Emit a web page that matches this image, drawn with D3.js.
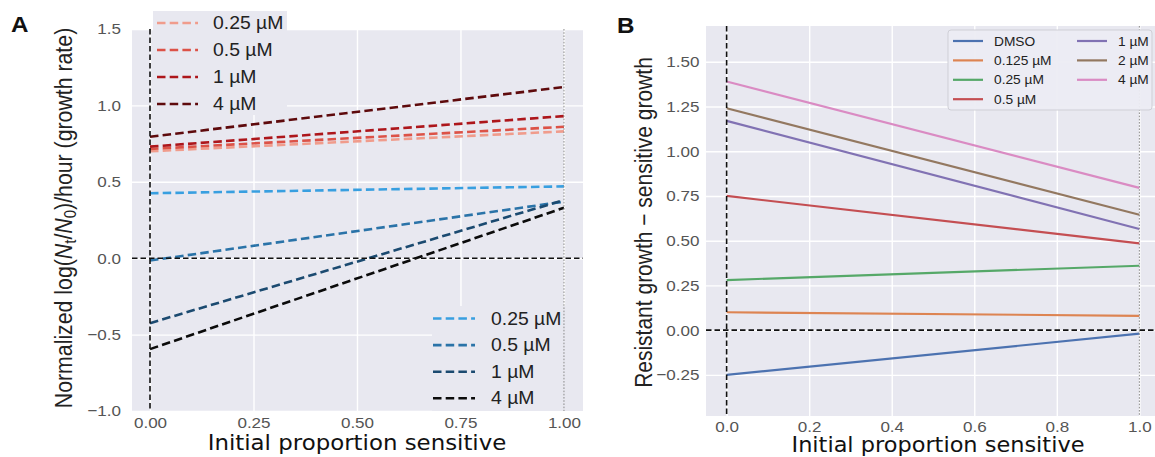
<!DOCTYPE html>
<html>
<head>
<meta charset="utf-8">
<script src="https://cdn.jsdelivr.net/npm/d3@7"></script>
<style>
  body { margin: 0; background: #ffffff; }
  svg { display: block; }
</style>
</head>
<body>
<svg id="fig" width="1155" height="457"></svg>
<script>
// ---- Panel A: growth rate vs. initial sensitive fraction (dashed lines) ----
const propEnds = [0, 1];
const concLabelsA = ["0.25 µM", "0.5 µM", "1 µM", "4 µM"];
const resistantStartA = [0.70, 0.715, 0.73, 0.795];
const resistantEndA   = [0.83, 0.86, 0.93, 1.12];
const sensitiveStartA = [0.425, -0.015, -0.425, -0.595];
const sensitiveEndA   = [0.47, 0.37, 0.38, 0.33];
const xTicksA = [0, 0.25, 0.5, 0.75, 1.0];
const yTicksA = [-1.0, -0.5, 0.0, 0.5, 1.0, 1.5];

// ---- Panel B: resistant minus sensitive growth (solid lines) ----
const concLabelsB = ["DMSO", "0.125 µM", "0.25 µM", "0.5 µM", "1 µM", "2 µM", "4 µM"];
const diffStartB = [-0.25, 0.10, 0.28, 0.75, 1.17, 1.24, 1.39];
const diffEndB   = [-0.02, 0.08, 0.36, 0.485, 0.565, 0.645, 0.795];
const xTicksB = [0, 0.2, 0.4, 0.6, 0.8, 1.0];
const yTicksB = [-0.25, 0, 0.25, 0.5, 0.75, 1.0, 1.25, 1.5];

const redsA  = ["#f09c8c", "#dc5247", "#ad161b", "#5e0a0c"];
const bluesA = ["#389fe0", "#2a73a8", "#1b4a70", "#0b0b0b"];
const deep   = ["#4c72b0", "#dd8452", "#55a868", "#c44e52", "#8172b3", "#937860", "#da8bc3"];

const BG = "#e8e8f0";
const SX = 1.1; // horizontal glyph stretch of the figure's text
const svg = d3.select("#fig");
const tickFont = "'Liberation Sans', Arial, sans-serif";

function panel(opts) {
  const { x, y, xTicks, yTicks, xFmt, yFmt, xPad, yPad } = opts;
  const [x0, x1] = x.range();
  const [y0, y1] = y.range(); // y0 bottom, y1 top
  const g = svg.append("g");
  g.append("rect").attr("x", x0).attr("y", y1).attr("width", x1 - x0).attr("height", y0 - y1).attr("fill", BG);

  const styleAxis = (ax) => {
    ax.select(".domain").remove();
    ax.selectAll(".tick line").attr("stroke", "#ffffff").attr("stroke-width", 1.4);
    ax.selectAll(".tick text")
      .attr("fill", "#555555")
      .style("font-family", tickFont)
      .style("font-size", "15.5px");
  };
  const xa = g.append("g").attr("transform", `translate(0,${y0})`)
    .call(d3.axisBottom(x).tickValues(xTicks).tickFormat(xFmt).tickSize(-(y0 - y1)).tickPadding(xPad));
  styleAxis(xa);
  xa.selectAll(".tick text").attr("transform", `scale(${SX},1)`);
  const ya = g.append("g").attr("transform", `translate(${x0},0)`)
    .call(d3.axisLeft(y).tickValues(yTicks).tickFormat(yFmt).tickSize(-(x1 - x0)).tickPadding(yPad));
  styleAxis(ya);
  ya.selectAll(".tick text").attr("transform", `scale(${SX},1)`);
  return g;
}

function crosshair(g, x, y) {
  const [x0, x1] = x.range();
  const [y0, y1] = y.range();
  g.append("line").attr("x1", x0).attr("x2", x1).attr("y1", y(0)).attr("y2", y(0))
    .attr("stroke", "#111").attr("stroke-width", 1.6).attr("stroke-dasharray", "5.5,3");
  g.append("line").attr("x1", x(0)).attr("x2", x(0)).attr("y1", y1).attr("y2", y0)
    .attr("stroke", "#111").attr("stroke-width", 1.6).attr("stroke-dasharray", "5.5,3");
}

function dottedOne(g, x, y) {
  const [y0, y1] = y.range();
  g.append("line").attr("x1", x(1)).attr("x2", x(1)).attr("y1", y1).attr("y2", y0)
    .attr("stroke", "#8a8a8a").attr("stroke-width", 1).attr("stroke-dasharray", "1.6,1.6");
}

function stretchedText(g, px, py, txt, size, opts = {}) {
  return g.append("text")
    .attr("transform", `translate(${px},${py}) scale(${SX},1)`)
    .attr("text-anchor", opts.anchor || "start")
    .attr("fill", opts.fill || "#222")
    .style("font-family", opts.family || tickFont)
    .style("font-size", size + "px")
    .style("font-weight", opts.weight || "normal")
    .text(txt);
}

// ================= Panel A =================
const xA = d3.scaleLinear().domain([-0.0435, 1.046]).range([132, 583]);
const yA = d3.scaleLinear().domain([-1.0, 1.5]).range([411, 29]);
const gA = panel({ x: xA, y: yA, xTicks: xTicksA, yTicks: yTicksA,
  xFmt: d3.format(".2f"), yFmt: d3.format(".1f"), xPad: 6.5, yPad: 10 });

const lineA = d3.line().x(d => xA(d[0])).y(d => yA(d[1]));
const dashA = "8.5,4.2";
concLabelsA.forEach((c, i) => {
  gA.append("path").datum(propEnds.map((p, k) => [p, k ? resistantEndA[i] : resistantStartA[i]]))
    .attr("d", lineA).attr("fill", "none").attr("stroke", redsA[i])
    .attr("stroke-width", 2.6).attr("stroke-dasharray", dashA);
});
concLabelsA.forEach((c, i) => {
  gA.append("path").datum(propEnds.map((p, k) => [p, k ? sensitiveEndA[i] : sensitiveStartA[i]]))
    .attr("d", lineA).attr("fill", "none").attr("stroke", bluesA[i])
    .attr("stroke-width", 2.6).attr("stroke-dasharray", dashA);
});
crosshair(gA, xA, yA);

// legends for panel A
function legendA(g, bx, by, bw, bh, rowY0, rowStep, lx0, lx1, tx, colors) {
  g.append("rect").attr("x", bx).attr("y", by).attr("width", bw).attr("height", bh).attr("fill", BG);
  concLabelsA.forEach((c, i) => {
    const ry = rowY0 + i * rowStep;
    g.append("line").attr("x1", lx0).attr("x2", lx1).attr("y1", ry).attr("y2", ry)
      .attr("stroke", colors[i]).attr("stroke-width", 2.6).attr("stroke-dasharray", dashA);
    stretchedText(g, tx, ry + 6, c, 17.6, { fill: "#222" });
  });
}
legendA(gA, 153, 11, 134, 104, 23, 27, 157, 198, 213, redsA);
legendA(gA, 432, 306, 151, 105, 318.5, 26.6, 433, 475, 491, bluesA);
dottedOne(gA, xA, yA);

// axis labels panel A
const labA = svg.append("text")
  .attr("transform", `translate(71.5,218) scale(${SX},1) rotate(-90)`)
  .attr("text-anchor", "middle").attr("fill", "#222")
  .style("font-family", tickFont).style("font-size", "21.3px");
labA.append("tspan").text("Normalized log(");
labA.append("tspan").style("font-style", "italic").text("N");
labA.append("tspan").attr("dy", 4).style("font-size", "15px").text("t");
labA.append("tspan").attr("dy", -4).text("/");
labA.append("tspan").style("font-style", "italic").text("N");
labA.append("tspan").attr("dy", 4).style("font-size", "15px").text("0");
labA.append("tspan").attr("dy", -4).text(")/hour (growth rate)");

stretchedText(svg, 357, 450, "Initial proportion sensitive", 20.8,
  { anchor: "middle", fill: "#111", family: "'DejaVu Sans', Verdana, sans-serif" });
stretchedText(svg, 11, 32, "A", 22, { weight: "bold", fill: "#111", family: "'Liberation Sans', Arial, sans-serif" });

// ================= Panel B =================
const xB = d3.scaleLinear().domain([-0.05, 1.05]).range([706, 1160]);
const yB = d3.scaleLinear().domain([-0.48, 1.70]).range([416, 26]);
const gB = panel({ x: xB, y: yB, xTicks: xTicksB, yTicks: yTicksB,
  xFmt: d3.format(".1f"), yFmt: d3.format(".2f"), xPad: 4.5, yPad: 6 });

const lineB = d3.line().x(d => xB(d[0])).y(d => yB(d[1]));
concLabelsB.forEach((c, i) => {
  gB.append("path").datum(propEnds.map((p, k) => [p, k ? diffEndB[i] : diffStartB[i]]))
    .attr("d", lineB).attr("fill", "none").attr("stroke", deep[i]).attr("stroke-width", 2.2);
});
crosshair(gB, xB, yB);
dottedOne(gB, xB, yB);

// legend panel B (two columns)
gB.append("rect").attr("x", 948).attr("y", 30).attr("width", 204).attr("height", 80).attr("rx", 3)
  .attr("fill", "#ececf3").attr("fill-opacity", 0.95).attr("stroke", "#cfcfd6").attr("stroke-width", 1);
concLabelsB.forEach((c, i) => {
  const col = i < 4 ? 0 : 1;
  const row = i < 4 ? i : i - 4;
  const ry = 41 + row * 19.4;
  const lx = col ? 1077 : 953;
  gB.append("line").attr("x1", lx).attr("x2", lx + 30).attr("y1", ry).attr("y2", ry)
    .attr("stroke", deep[i]).attr("stroke-width", 2.2);
  stretchedText(gB, lx + 41, ry + 4.5, c, 12.5, { fill: "#222" });
});

svg.append("text")
  .attr("transform", `translate(651.5,222.5) scale(${SX},1) rotate(-90)`)
  .attr("text-anchor", "middle").attr("fill", "#222")
  .style("font-family", tickFont).style("font-size", "21px")
  .text("Resistant growth − sensitive growth");

stretchedText(svg, 938, 452.3, "Initial proportion sensitive", 20.4,
  { anchor: "middle", fill: "#111", family: "'DejaVu Sans', Verdana, sans-serif" });
stretchedText(svg, 617, 33, "B", 22, { weight: "bold", fill: "#111", family: "'Liberation Sans', Arial, sans-serif" });
</script>
</body>
</html>
